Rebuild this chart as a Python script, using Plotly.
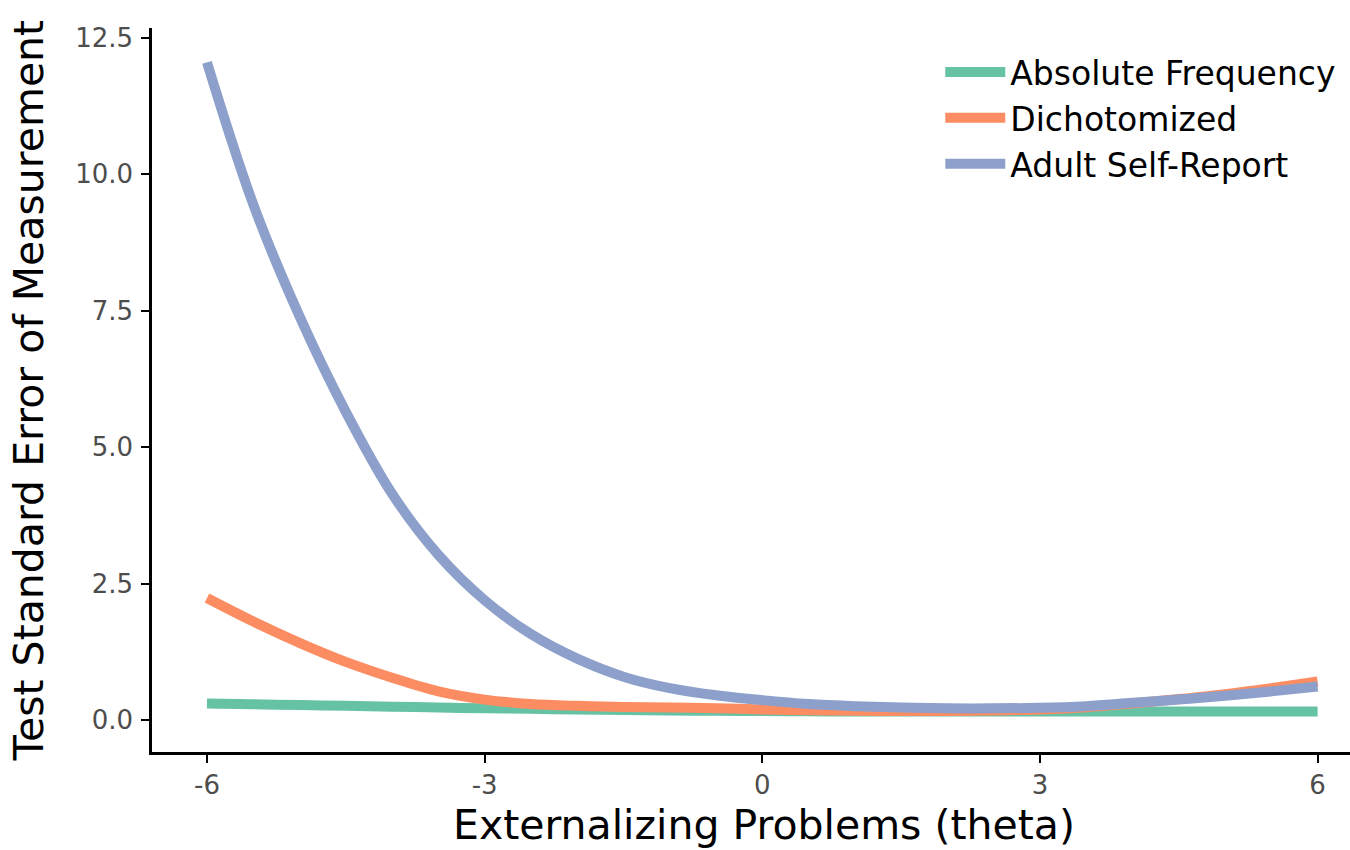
import plotly.graph_objects as go

theta = [-6, -5.5, -5, -4.5, -4, -3.5, -3, -2.5, -2, -1.5, -1, -0.5, 0,
         0.5, 1, 1.5, 2, 2.5, 3, 3.5, 4, 4.5, 5, 5.5, 6]

absolute_frequency = [0.31, 0.295, 0.28, 0.265, 0.25, 0.235, 0.22, 0.21, 0.2, 0.19, 0.18, 0.175, 0.17,
                      0.165, 0.163, 0.162, 0.16, 0.16, 0.16, 0.16, 0.16, 0.16, 0.16, 0.16, 0.16]
dichotomized = [2.24, 1.81, 1.42, 1.07, 0.78, 0.53, 0.38, 0.30, 0.265, 0.245, 0.235, 0.22, 0.20,
                0.185, 0.175, 0.17, 0.17, 0.18, 0.20, 0.24, 0.31, 0.39, 0.48, 0.59, 0.71]
adult_self_report = [12.05, 9.45, 7.4, 5.65, 4.15, 3.03, 2.2, 1.58, 1.13, 0.8, 0.59, 0.46, 0.37,
                     0.30, 0.26, 0.235, 0.22, 0.22, 0.23, 0.26, 0.32, 0.38, 0.45, 0.53, 0.62]

series_names = ["Absolute Frequency", "Dichotomized", "Adult Self-Report"]
series_colors = ["#66C2A5", "#FC8D62", "#8DA0CB"]
series_values = [absolute_frequency, dichotomized, adult_self_report]

x_ticks = [-6, -3, 0, 3, 6]
y_ticks = [0.0, 2.5, 5.0, 7.5, 10.0, 12.5]
y_tick_labels = ["0.0", "2.5", "5.0", "7.5", "10.0", "12.5"]

x_title = "Externalizing Problems (theta)"
y_title = "Test Standard Error of Measurement"

FONT = "DejaVu Sans"

fig = go.Figure()
for name, color, vals in zip(series_names, series_colors, series_values):
    fig.add_trace(go.Scatter(
        x=theta, y=vals, mode="lines", name=name,
        line=dict(color=color, width=10, shape="spline", smoothing=1.0),
    ))

fig.update_layout(
    width=1350, height=850,
    margin=dict(l=152, r=0, t=28, b=98),
    paper_bgcolor="white", plot_bgcolor="white",
    font=dict(family=FONT, color="black"),
    showlegend=True,
    legend=dict(
        x=0.658, y=0.978, xanchor="left", yanchor="top",
        font=dict(size=33, color="black", family=FONT),
        bgcolor="rgba(0,0,0,0)", itemwidth=60,
    ),
    annotations=[dict(
        text=x_title, xref="paper", yref="paper",
        x=0.511, y=-0.1008, xanchor="center", yanchor="middle",
        showarrow=False, font=dict(size=41, color="black", family=FONT),
    )],
)

fig.update_xaxes(
    range=[-6.594, 6.35], tickvals=x_ticks, ticktext=[str(v) for v in x_ticks],
    showgrid=False, zeroline=False,
    showline=True, linecolor="black", linewidth=2.5,
    ticks="outside", ticklen=8, tickwidth=2, tickcolor="black",
    tickfont=dict(size=26, color="#4D4D4D", family=FONT),
)
fig.update_yaxes(
    range=[-0.58, 12.68], tickvals=y_ticks, ticktext=y_tick_labels,
    showgrid=False, zeroline=False,
    showline=True, linecolor="black", linewidth=2.5,
    ticks="outside", ticklen=8, tickwidth=2, tickcolor="black",
    tickfont=dict(size=26, color="#4D4D4D", family=FONT),
    ticklabelstandoff=3,
    title=dict(text=y_title, font=dict(size=41, color="black", family=FONT), standoff=19),
)

fig.write_html("out.html")
